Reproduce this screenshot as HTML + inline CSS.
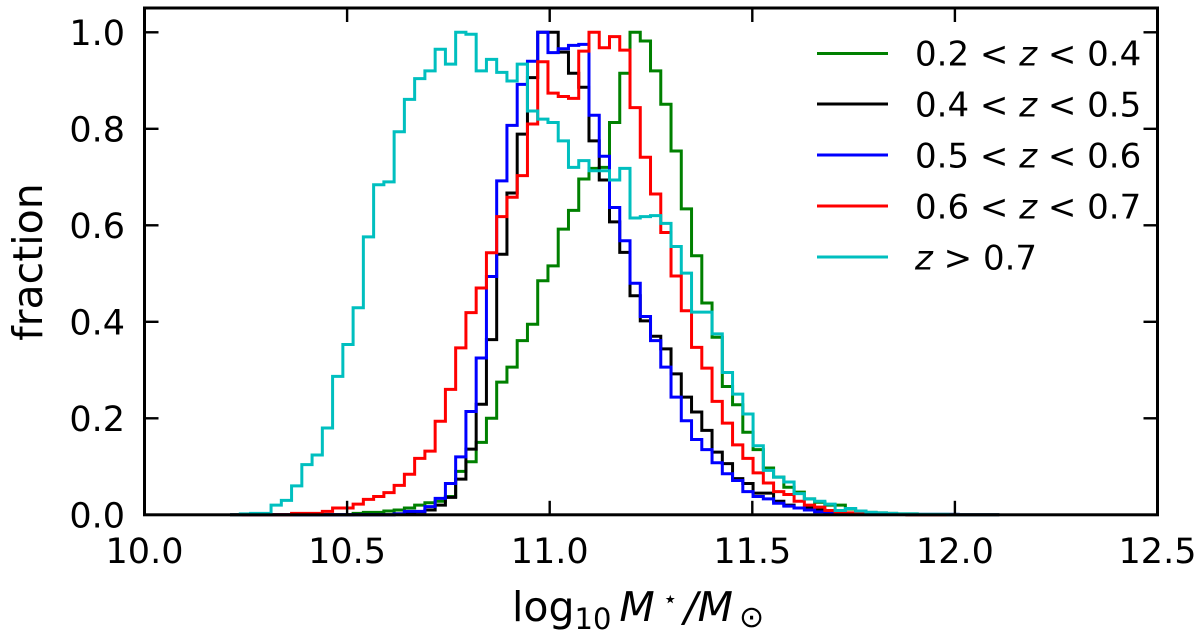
<!DOCTYPE html>
<html><head><meta charset="utf-8"><style>
html,body{margin:0;padding:0;background:#fff;}
svg{display:block;font-family:"DejaVu Sans","Liberation Sans",sans-serif;}
</style></head><body>
<svg id="chart" width="1200" height="637" viewBox="0 0 1200 637" xmlns="http://www.w3.org/2000/svg">
<g id="plot"></g>
<g id="axes"></g>
<g id="legend"></g>
</svg>
<script>
const binStart = 10.2111;
const binWidth = 0.02531;
const xTicks = [10.0, 10.5, 11.0, 11.5, 12.0, 12.5];
const xTickLabels = ["10.0", "10.5", "11.0", "11.5", "12.0", "12.5"];
const yTicks = [0.0, 0.2, 0.4, 0.6, 0.8, 1.0];
const yTickLabels = ["0.0", "0.2", "0.4", "0.6", "0.8", "1.0"];
const seriesNames = ["0.2<z<0.4", "0.4<z<0.5", "0.5<z<0.6", "0.6<z<0.7", "z>0.7"];
const seriesColors = ["#008000", "#000000", "#0000ff", "#ff0000", "#00bfbf"];
const green = [0,0,0,0,0,0,0,0,0,0,0,0,0.003,0.005,0.005,0.008,0.01,0.014,0.02,0.025,0.028,0.038,0.09,0.11,0.15,0.2,0.275,0.306,0.361,0.395,0.485,0.516,0.592,0.631,0.696,0.718,0.72,0.813,0.915,1.0,0.982,0.92,0.851,0.754,0.634,0.537,0.439,0.368,0.266,0.228,0.171,0.135,0.097,0.078,0.057,0.047,0.033,0.026,0.02,0.02,0.012,0.008,0.005,0.004,0.003,0.002,0.002,0.001,0.001,0.001,0.001,0,0,0,0];
const black = [0,0,0,0,0,0,0,0,0,0,0,0,0,0,0,0,0.002,0.004,0.006,0.01,0.02,0.036,0.074,0.136,0.229,0.363,0.54,0.667,0.789,0.906,1.0,1.0,0.959,0.915,0.886,0.775,0.694,0.607,0.544,0.454,0.402,0.37,0.344,0.292,0.244,0.213,0.175,0.13,0.106,0.075,0.065,0.045,0.045,0.028,0.02,0.014,0.014,0.01,0.006,0.004,0.003,0.002,0.002,0.001,0.001,0.001,0,0,0,0,0,0,0,0,0];
const blue = [0,0,0,0,0,0,0,0,0,0,0,0,0,0,0,0,0.002,0.007,0.007,0.017,0.034,0.065,0.12,0.214,0.325,0.494,0.692,0.807,0.892,0.94,1.0,0.958,0.966,0.973,0.975,0.828,0.743,0.637,0.568,0.48,0.411,0.361,0.306,0.244,0.195,0.156,0.135,0.108,0.085,0.071,0.048,0.038,0.033,0.024,0.018,0.014,0.01,0.006,0.004,0.003,0.003,0.002,0.002,0.002,0.001,0.001,0.001,0.001,0.001,0.001,0.001,0,0,0,0];
const red = [0,0,0,0,0,0,0.003,0.003,0.003,0.007,0.014,0.014,0.022,0.032,0.038,0.046,0.061,0.084,0.117,0.132,0.194,0.26,0.346,0.419,0.47,0.543,0.618,0.658,0.703,0.81,0.939,0.874,0.867,0.863,0.961,1.0,0.968,0.991,0.963,0.844,0.741,0.665,0.585,0.495,0.423,0.347,0.304,0.235,0.19,0.145,0.117,0.087,0.066,0.048,0.042,0.028,0.02,0.016,0.009,0.005,0.004,0.003,0.002,0.001,0.001,0.001,0,0,0,0,0,0,0,0,0];
const cyan = [0,0.002,0.003,0.003,0.02,0.03,0.06,0.104,0.124,0.18,0.287,0.353,0.429,0.576,0.684,0.69,0.794,0.861,0.904,0.92,0.965,0.934,1.0,0.996,0.92,0.944,0.917,0.899,0.934,0.837,0.82,0.813,0.775,0.72,0.734,0.713,0.713,0.694,0.718,0.615,0.618,0.62,0.604,0.556,0.501,0.42,0.42,0.375,0.295,0.25,0.209,0.143,0.092,0.078,0.068,0.044,0.033,0.028,0.022,0.009,0.013,0.008,0.005,0.004,0.003,0.002,0.002,0.001,0.001,0.001,0,0,0,0,0];

const L = 144.5, R = 1157.5, T = 8, B = 514.8;
const xMin = 10.0, xMax = 12.5, yMin = 0, yMax = 1.0;
const yTop = 32.3;
function xs(v){ return L + (v - xMin) / (xMax - xMin) * (R - L); }
function ys(v){ return B - (v - yMin) / (yMax - yMin) * (B - yTop); }
const NS = "http://www.w3.org/2000/svg";
function mk(tag, attrs, parent){ const e = document.createElementNS(NS, tag); for (const k in attrs) e.setAttribute(k, attrs[k]); parent.appendChild(e); return e; }

const plot = document.getElementById('plot');
const allSeries = [green, black, blue, red, cyan];
allSeries.forEach((vals, si) => {
  let d = "M" + xs(binStart).toFixed(2) + "," + ys(0).toFixed(2);
  vals.forEach((v, i) => {
    const x0 = xs(binStart + i * binWidth), x1 = xs(binStart + (i + 1) * binWidth);
    d += " L" + x0.toFixed(2) + "," + ys(v).toFixed(2) + " L" + x1.toFixed(2) + "," + ys(v).toFixed(2);
  });
  d += " L" + xs(binStart + vals.length * binWidth).toFixed(2) + "," + ys(0).toFixed(2);
  const p = mk('path', {d: d, fill: 'none', stroke: seriesColors[si], 'stroke-width': 3, 'stroke-linejoin': 'miter'}, plot);
  
  
});

const axes = document.getElementById('axes');
const frame = mk('rect', {x: L, y: T, width: R - L, height: B - T, fill: 'none', stroke: '#000', 'stroke-width': 3}, axes);


xTicks.forEach((v, i) => {
  const x = xs(v);
  mk('line', {x1: x, y1: B, x2: x, y2: B - 14, stroke: '#000', 'stroke-width': 2.4}, axes);
  mk('line', {x1: x, y1: T, x2: x, y2: T + 14, stroke: '#000', 'stroke-width': 2.4}, axes);
  const t = mk('text', {x: x, y: 563, 'font-size': 35, 'text-anchor': 'middle', fill: '#000'}, axes);
  t.textContent = xTickLabels[i];
  
  
});
yTicks.forEach((v, i) => {
  const y = ys(v);
  mk('line', {x1: L, y1: y, x2: L + 14, y2: y, stroke: '#000', 'stroke-width': 2.4}, axes);
  mk('line', {x1: R, y1: y, x2: R - 14, y2: y, stroke: '#000', 'stroke-width': 2.4}, axes);
  const t = mk('text', {x: 125, y: y + 12.5, 'font-size': 35, 'text-anchor': 'end', fill: '#000'}, axes);
  t.textContent = yTickLabels[i];
  
  
});
</script>
<svg style="position:absolute;left:0;top:0" width="1200" height="637">
<text x="0" y="0" transform="translate(42,262) rotate(-90)" font-family="DejaVu Sans, Liberation Sans, sans-serif" font-size="41" text-anchor="middle">fraction</text>
<text x="512" y="621" font-family="DejaVu Sans, Liberation Sans, sans-serif" font-size="41">log<tspan font-size="29" dy="8">10</tspan><tspan dy="-8" dx="8" font-style="italic">M</tspan><tspan font-size="24" dy="-14" dx="8">⋆</tspan><tspan dy="14" dx="6" font-style="italic">/M</tspan><tspan font-size="30" dy="6" dx="6">⊙</tspan></text>
<g font-family="DejaVu Sans, Liberation Sans, sans-serif" font-size="34">
<g><line x1="817" y1="53.5" x2="888" y2="53.5" stroke="#008000" stroke-width="3"/><text x="915" y="65.5">0.2 &lt; <tspan font-style="italic">z</tspan> &lt; 0.4</text></g>
<g><line x1="817" y1="104" x2="888" y2="104" stroke="#000" stroke-width="3"/><text x="915" y="116.5">0.4 &lt; <tspan font-style="italic">z</tspan> &lt; 0.5</text></g>
<g><line x1="817" y1="155" x2="888" y2="155" stroke="#0000ff" stroke-width="3"/><text x="915" y="167.5">0.5 &lt; <tspan font-style="italic">z</tspan> &lt; 0.6</text></g>
<g><line x1="817" y1="206" x2="888" y2="206" stroke="#ff0000" stroke-width="3"/><text x="915" y="218.5">0.6 &lt; <tspan font-style="italic">z</tspan> &lt; 0.7</text></g>
<g><line x1="817" y1="257" x2="888" y2="257" stroke="#00bfbf" stroke-width="3"/><text x="915" y="269.5"><tspan font-style="italic">z</tspan> &gt; 0.7</text></g>
</g>
</svg>
</body></html>
